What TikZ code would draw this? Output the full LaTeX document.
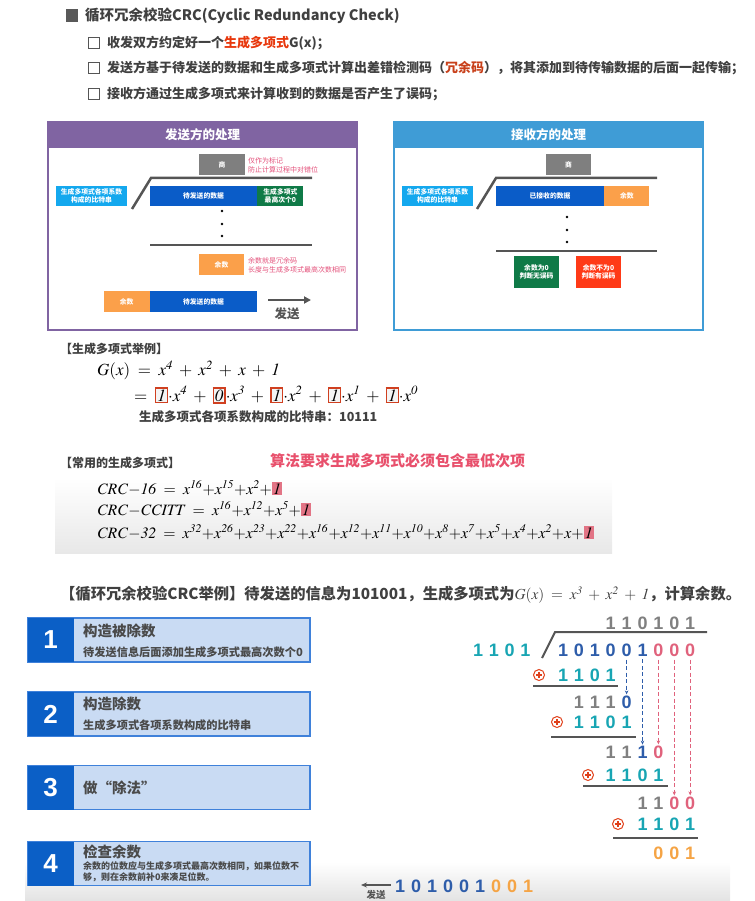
\documentclass[tikz,border=0pt]{standalone}
\usepackage{mathptmx}
\usepackage[no-math]{fontspec}
\setmainfont{Noto Sans CJK SC}
\newfontfamily\digitfont{Liberation Sans}
\usepackage{xcolor}
\usetikzlibrary{arrows.meta, positioning, calc}
\definecolor{titlegray}{HTML}{404040}
\definecolor{bulletgray}{HTML}{595959}
\definecolor{hlred}{HTML}{E8380D}
\definecolor{redund}{HTML}{C8401A}
\definecolor{sendpurple}{HTML}{8064A2}
\definecolor{recvblue}{HTML}{3F9CD6}
\definecolor{quogray}{HTML}{7F7F7F}
\definecolor{coefblue}{HTML}{14A8EE}
\definecolor{datablue}{HTML}{0A5CC8}
\definecolor{zerogreen}{HTML}{0F7A47}
\definecolor{remorange}{HTML}{FBA04A}
\definecolor{notered}{HTML}{E3507A}
\definecolor{errred}{HTML}{FF3A17}
\definecolor{bargray}{HTML}{555555}
\definecolor{boxred}{HTML}{D04020}
\definecolor{boxfill}{HTML}{F4F4F4}
\definecolor{hlpink}{HTML}{E27485}
\definecolor{rednote}{HTML}{E8506C}
\definecolor{stepblue}{HTML}{0B5FC6}
\definecolor{steplight}{HTML}{C9DBF3}
\definecolor{stepline}{HTML}{3F81DA}
\definecolor{stepgray}{HTML}{4A4A4A}
\definecolor{digteal}{HTML}{18A5B3}
\definecolor{digblue}{HTML}{2E5DAA}
\definecolor{digpink}{HTML}{E0627C}
\definecolor{diggray}{HTML}{808080}
\definecolor{digorange}{HTML}{F5A445}
\definecolor{xorred}{HTML}{E0401A}
\newcommand\fs[2]{\fontsize{#1}{#2}\selectfont}
\newcommand\cfbox[1]{{\setlength\fboxrule{1.3pt}\setlength\fboxsep{1pt}\fcolorbox{boxred}{boxfill}{$\mathit{#1}$}}}
\newcommand\hlone{{\setlength\fboxsep{1.2pt}\colorbox{hlpink}{$\mathit{1}$}}}
\newcommand\colx[1]{563+15.9*(#1-1)}
\tikzset{
  headtxt/.style  ={anchor=west, inner sep=0, text=titlegray, font=\fs{14.5}{17}},
  itemtxt/.style  ={anchor=west, inner sep=0, text=titlegray, font=\fs{13}{15}\bfseries},
  chkbox/.style   ={rectangle, draw=bargray, line width=1.2pt, minimum size=11.5, inner sep=0},
  sectxt/.style   ={anchor=west, inner sep=0, text=titlegray, font=\fs{12}{14}\bfseries},
  mathline/.style ={anchor=west, inner sep=0, font=\fs{17}{20}},
  paneltitle/.style={inner sep=0, text=white, font=\fs{12.5}{14}\bfseries},
  bitbox/.style   ={rectangle, minimum height=20, inner sep=0, text=white, align=center,
                    font=\fs{6.8}{8.5}\bfseries},
  note/.style     ={anchor=west, inner sep=0, align=left, text=notered, font=\fs{7}{9}},
  divbar/.style   ={line width=2.5pt, draw=bargray},
  sendarrow/.style={-{Triangle[length=7pt,width=7pt]}, line width=2.5pt, draw=bargray},
  steppanel/.style={rectangle, fill=steplight, draw=stepline, line width=1.2pt,
                    minimum width=282, minimum height=44, inner sep=0},
  stepnum/.style  ={rectangle, fill=stepblue, text=white, minimum width=46, minimum height=44,
                    inner sep=0, font=\digitfont\fs{26}{26}\bfseries},
  steptitle/.style={anchor=west, inner sep=0, text=stepgray, font=\fs{14.5}{16}\bfseries},
  stepsub/.style  ={anchor=west, inner sep=0, text=stepgray, font=\fs{11.2}{13}\bfseries},
  digit/.style    ={inner sep=0, font=\digitfont\fs{18}{18}\bfseries},
  xorsym/.style   ={circle, draw=xorred, line width=1pt, minimum size=11, inner sep=0,
                    path picture={\draw[xorred, line width=1.1pt]
                      ([xshift=-3pt]path picture bounding box.center) -- ([xshift=3pt]path picture bounding box.center)
                      ([yshift=-3pt]path picture bounding box.center) -- ([yshift=3pt]path picture bounding box.center);}},
  divline/.style  ={line width=2pt, draw=bargray},
  dropblue/.style ={-{Stealth[length=4pt,width=3.5pt]}, dashed, dash pattern=on 4pt off 2.5pt,
                    line width=1pt, draw=digblue, shorten <=3pt, shorten >=1pt},
  droppink/.style ={dropblue, draw=digpink},
}
\begin{document}
\begin{tikzpicture}[x=1pt, y=-1pt]
  \useasboundingbox (0,0) rectangle (754,901);

  % heading and items
  \node[fill=bulletgray, minimum size=12.5, inner sep=0] (bullet) at (72,15.5) {};
  \node[headtxt] (head) at (85,15.5) {\bfseries 循环冗余校验CRC({\bfseries C}yclic {\bfseries R}edundancy {\bfseries C}heck)};
  \foreach \n/\y in {1/43,2/68,3/94}
    \node[chkbox] (chk\n) at (94,\y) {};
  \node[itemtxt] (item1) at (107,43) {收发双方约定好一个\textcolor{hlred}{生成多项式}G(x)；};
  \node[itemtxt] (item2) at (107,68) {发送方基于待发送的数据和生成多项式计算出差错检测码（\textcolor{redund}{冗余码}），将其添加到待传输数据的后面一起传输；};
  \node[itemtxt] (item3) at (107,94) {接收方通过生成多项式来计算收到的数据是否产生了误码；};

  % sender panel
  \draw[line width=2.5pt, draw=sendpurple] (48,122) rectangle (357,330);
  \fill[sendpurple] (48,122) rectangle (357,148);
  \node[paneltitle] (stitle) at (202.5,135) {发送方的处理};
  \node[bitbox, fill=quogray, minimum width=46, minimum height=21] (squo) at (222,164.5) {商};
  \node[note] (snote1) at (248,165) {仅作为标记\\防止计算过程中对错位};
  \node[bitbox, fill=coefblue, minimum width=71] (scoef) at (91.5,196) {生成多项式各项系数\\构成的比特串};
  \node[bitbox, fill=datablue, minimum width=107] (sdata) at (203.5,196) {待发送的数据};
  \node[bitbox, fill=zerogreen, minimum width=46, right=0pt of sdata] (szero) {生成多项式\\最高次个0};
  \coordinate (sbrk) at (132,209);
  \draw[divbar] (sbrk) -- (151,178) -- (312,178);
  \foreach \y in {211,224,236}
    \fill (222,\y) circle (1.3);
  \draw[divbar] (150,245) -- (312,245);
  \node[bitbox, fill=remorange, minimum width=45, minimum height=21] (srem) at (221.5,264.5) {余数};
  \node[note] (snote2) at (248,265) {余数就是冗余码\\长度与生成多项式最高次数相同};
  \node[bitbox, fill=datablue, minimum width=107, minimum height=21] (sout) at (203.5,301.5) {待发送的数据};
  \node[bitbox, fill=remorange, minimum width=46, minimum height=21, left=0pt of sout] (soutrem) {余数};
  \coordinate (ssend) at (268,300);
  \coordinate (ssendend) at (311,300);
  \draw[sendarrow] (ssend) -- (ssendend);
  \node[inner sep=0, text=bargray, font=\fs{12.5}{14}\bfseries] (ssendtxt) at (287,314) {发送};

  % receiver panel
  \draw[line width=2.5pt, draw=recvblue] (394,122) rectangle (703,330);
  \fill[recvblue] (394,122) rectangle (703,148);
  \node[paneltitle] (rtitle) at (548.5,135) {接收方的处理};
  \node[bitbox, fill=quogray, minimum width=45, minimum height=21] (rquo) at (568.5,164.5) {商};
  \node[bitbox, fill=coefblue, minimum width=71] (rcoef) at (437.5,196) {生成多项式各项系数\\构成的比特串};
  \node[bitbox, fill=datablue, minimum width=108] (rdata) at (550,196) {已接收的数据};
  \node[bitbox, fill=remorange, minimum width=45, right=0pt of rdata] (rrem) {余数};
  \coordinate (rbrk) at (477,209);
  \draw[divbar] (rbrk) -- (496,178) -- (657,178);
  \foreach \y in {217,230,242}
    \fill (567,\y) circle (1.3);
  \draw[divbar] (496,251) -- (657,251);
  \node[bitbox, fill=zerogreen, minimum width=45, minimum height=32] (rok) at (536.5,272) {余数为0\\判断无误码};
  \node[bitbox, fill=errred, minimum width=45, minimum height=32] (rerr) at (598.5,272) {余数不为0\\判断有误码};

  % generator polynomial example
  \node[sectxt] (exhead) at (60,349) {【生成多项式举例】};
  \node[mathline] (gx) at (97,370) {$G(x) \;=\; x^{\mathit{4}} \;+\; x^{\mathit{2}} \;+\; x \;+\; \mathit{1}$};
  \node[mathline] (gx2) at (134,395) {$=\; \cfbox{1}{\cdot}x^{\mathit{4}} \;+\; \cfbox{0}{\cdot}x^{\mathit{3}} \;+\; \cfbox{1}{\cdot}x^{\mathit{2}} \;+\; \cfbox{1}{\cdot}x^{\mathit{1}} \;+\; \cfbox{1}{\cdot}x^{\mathit{0}}$};
  \node[sectxt, font=\fs{12.5}{14}\bfseries] (bits) at (139,417) {生成多项式各项系数构成的比特串：10111};

  % common polynomials
  \shade[top color=white, bottom color=gray!18] (55,478) rectangle (612,553);
  \node[sectxt] (cmhead) at (60,463) {【常用的生成多项式】};
  \node[anchor=west, inner sep=0, text=rednote, font=\fs{15}{17}\bfseries] (rule) at (270,461) {算法要求生成多项式必须包含最低次项};
  \node[mathline, font=\fs{15.8}{18}] (crc16) at (97,488) {$\mathit{CRC}{-}\mathit{16} \;=\; x^{\mathit{16}}{+}x^{\mathit{15}}{+}x^{\mathit{2}}{+}\hlone$};
  \node[mathline, font=\fs{15.8}{18}] (ccitt) at (97,509) {$\mathit{CRC}{-}\mathit{CCITT} \;=\; x^{\mathit{16}}{+}x^{\mathit{12}}{+}x^{\mathit{5}}{+}\hlone$};
  \node[mathline, font=\fs{15.8}{18}] (crc32) at (97,532) {$\mathit{CRC}{-}\mathit{32} \;=\; x^{\mathit{32}}{+}x^{\mathit{26}}{+}x^{\mathit{23}}{+}x^{\mathit{22}}{+}x^{\mathit{16}}{+}x^{\mathit{12}}{+}x^{\mathit{11}}{+}x^{\mathit{10}}{+}x^{\mathit{8}}{+}x^{\mathit{7}}{+}x^{\mathit{5}}{+}x^{\mathit{4}}{+}x^{\mathit{2}}{+}x{+}\hlone$};

  % worked example
  \node[sectxt, font=\fs{15.3}{17}\bfseries] (extitle) at (60,595) {【循环冗余校验CRC举例】待发送的信息为101001，生成多项式为$G(x) \;=\; x^{\mathit{3}} \;+\; x^{\mathit{2}} \;+\; \mathit{1}$，计算余数。};

  \shade[top color=white, bottom color=gray!22] (25,862) rectangle (730,901);

  % steps
  \foreach \n/\y in {1/640,2/714,3/787.5,4/863.5} {
    \node[steppanel] (step\n) at (169,\y) {};
    \node[stepnum, anchor=west] (num\n) at (step\n.west) {\n};
  }
  \node[steptitle] (t1) at (83,631) {构造被除数};
  \node[stepsub] (s1) at (83,652) {待发送信息后面添加生成多项式最高次数个0};
  \node[steptitle] (t2) at (83,704) {构造除数};
  \node[stepsub] (s2) at (83,725) {生成多项式各项系数构成的比特串};
  \node[steptitle] (t3) at (83,788) {做“除法”};
  \node[steptitle] (t4) at (83,852) {检查余数};
  \node[stepsub, align=left, font=\fs{9}{10.5}\bfseries] (s4) at (83,872) {余数的位数应与生成多项式最高次数相同，如果位数不\\够，则在余数前补0来凑足位数。};

  % long division
  \coordinate (brk0) at (542,658);
  \draw[divline] (brk0) -- (555,632) -- (707,632);
  \foreach \b [count=\k from 4] in {1,1,0,1,0,1}
    \node[digit, text=diggray] (q\k) at ({\colx{\k}},623) {\b};
  \foreach \b [count=\k] in {1,0,1,0,0,1}
    \node[digit, text=digblue] (dd\k) at ({\colx{\k}},650) {\b};
  \foreach \k in {7,8,9}
    \node[digit, text=digpink] (dd\k) at ({\colx{\k}},650) {0};
  \foreach \b [count=\k] in {1,1,0,1}
    \node[digit, text=digteal] (dv\k) at ({478+15.8*(\k-1)},650) {\b};

  \node[xorsym] (x1) at (539,675) {};
  \foreach \b [count=\k] in {1,1,0,1}
    \node[digit, text=digteal] (a\k) at ({\colx{\k}},675) {\b};
  \draw[divline] (533,686) -- (618,686);
  \foreach \k in {2,3,4}
    \node[digit, text=diggray] (b\k) at ({\colx{\k}},702) {1};
  \node[digit, text=digblue] (b5) at ({\colx{5}},702) {0};

  \node[xorsym] (x2) at (557,722) {};
  \foreach \b [count=\k from 2] in {1,1,0,1}
    \node[digit, text=digteal] (c\k) at ({\colx{\k}},722) {\b};
  \draw[divline] (551,737) -- (636,737);
  \foreach \k in {4,5}
    \node[digit, text=diggray] (d\k) at ({\colx{\k}},752) {1};
  \node[digit, text=digblue] (d6) at ({\colx{6}},752) {1};
  \node[digit, text=digpink] (d7) at ({\colx{7}},752) {0};

  \node[xorsym] (x3) at (588,775) {};
  \foreach \b [count=\k from 4] in {1,1,0,1}
    \node[digit, text=digteal] (e\k) at ({\colx{\k}},775) {\b};
  \draw[divline] (583,786) -- (668,786);
  \foreach \k in {6,7}
    \node[digit, text=diggray] (f\k) at ({\colx{\k}},803) {1};
  \foreach \k in {8,9}
    \node[digit, text=digpink] (f\k) at ({\colx{\k}},803) {0};

  \node[xorsym] (x4) at (618,824) {};
  \foreach \b [count=\k from 6] in {1,1,0,1}
    \node[digit, text=digteal] (g\k) at ({\colx{\k}},824) {\b};
  \draw[divline] (613,838) -- (698,838);
  \foreach \b [count=\k from 7] in {0,0,1}
    \node[digit, text=digorange] (h\k) at ({\colx{\k}},853) {\b};

  \draw[dropblue] (dd5) -- (b5);
  \draw[dropblue] (dd6) -- (d6);
  \draw[droppink] (dd7) -- (d7);
  \draw[droppink] (dd8) -- (f8);
  \draw[droppink] (dd9) -- (f9);

  % transmitted frame
  \foreach \b [count=\k] in {1,0,1,0,0,1}
    \node[digit, text=digblue] (fr\k) at ({400+16*(\k-1)},886) {\b};
  \foreach \b [count=\k from 7] in {0,0,1}
    \node[digit, text=digorange] (fr\k) at ({400+16*(\k-1)},886) {\b};
  \coordinate (sendhead) at (361,885);
  \draw[-{Stealth[length=6pt,width=5pt]}, line width=1.6pt, draw=bargray] (fr1.west) ++(-4,-1) -- (sendhead);
  \node[inner sep=0, text=bargray, font=\fs{9.5}{11}\bfseries] (sendlbl) at (376,895) {发送};
\end{tikzpicture}
\end{document}
